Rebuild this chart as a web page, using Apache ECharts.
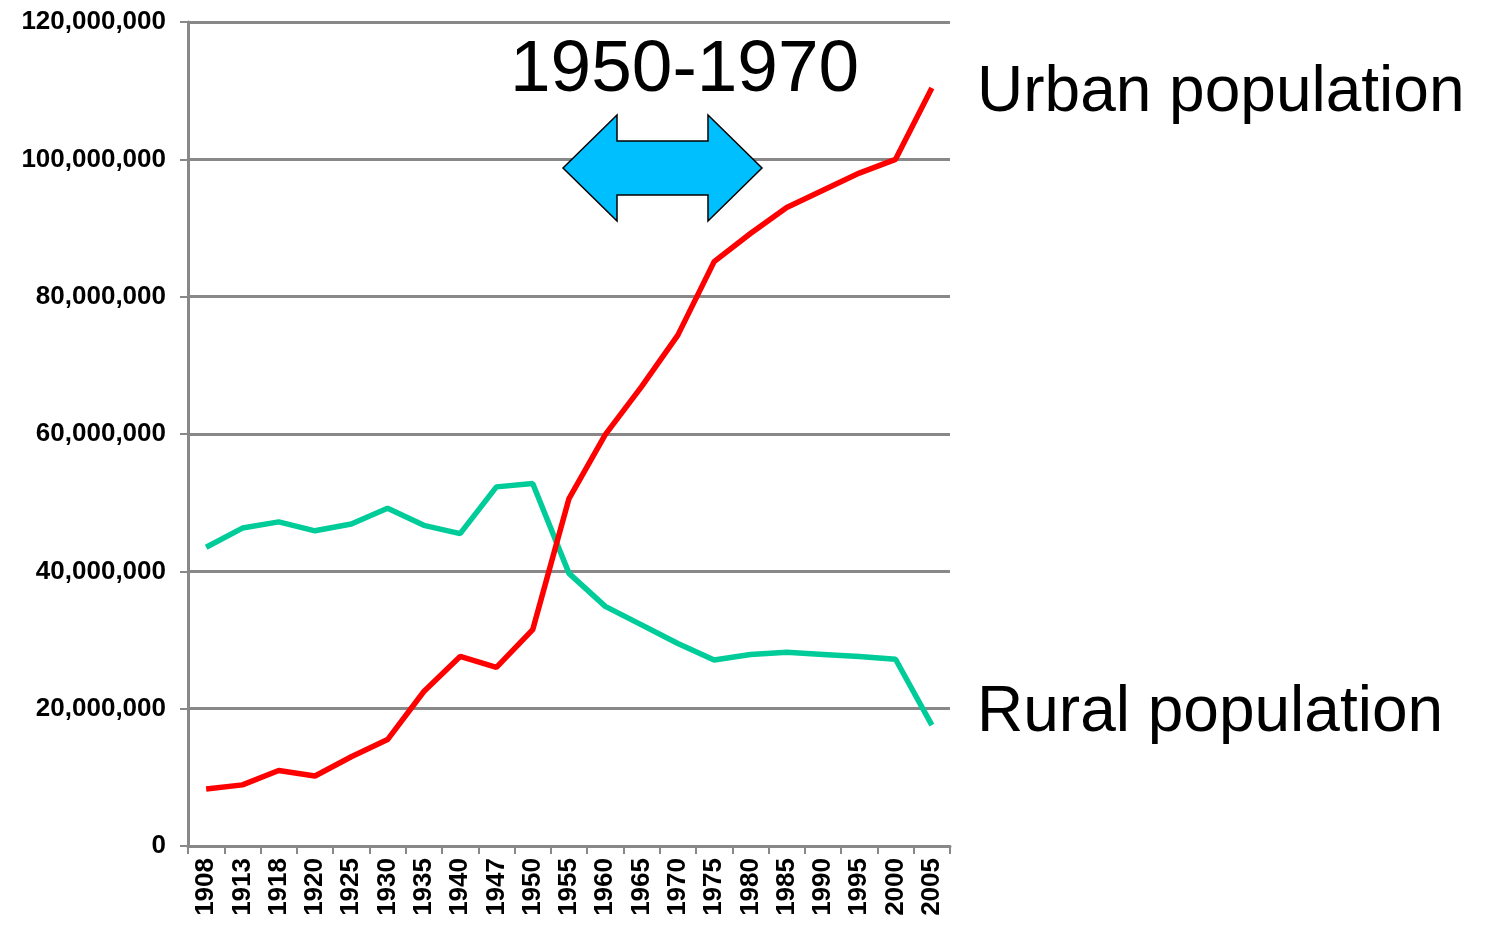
<!DOCTYPE html>
<html>
<head>
<meta charset="utf-8">
<script src="https://cdn.jsdelivr.net/npm/echarts@6/dist/echarts.min.js"></script>
<style>html,body{margin:0;padding:0;background:#fff;}#c{width:1486px;height:925px;}</style>
</head>
<body>
<div id="c"></div>
<script>
const years = ['1908','1913','1918','1920','1925','1930','1935','1940','1947','1950','1955','1960','1965','1970','1975','1980','1985','1990','1995','2000','2005'];
const urbanPopulation = [8300000, 8900000, 11000000, 10200000, 13000000, 15500000, 22500000, 27600000, 26000000, 31500000, 50600000, 59900000, 66900000, 74400000, 85100000, 89200000, 93000000, 95500000, 98000000, 100000000, 110400000];
const ruralPopulation = [43500000, 46300000, 47200000, 45900000, 46900000, 49200000, 46700000, 45500000, 52300000, 52800000, 39700000, 34900000, 32200000, 29500000, 27100000, 27900000, 28200000, 27900000, 27600000, 27200000, 17600000];
const periodLabel = '1950-1970';
const urbanLabel = 'Urban population';
const ruralLabel = 'Rural population';

const FONT = "'Liberation Sans', Arial, sans-serif";
const chart = echarts.init(document.getElementById('c'), null, {renderer: 'canvas'});
const fmt = v => String(v).replace(/\B(?=(\d{3})+(?!\d))/g, ',');

chart.setOption({
  animation: false,
  backgroundColor: '#fff',
  grid: {left: 188, right: 536, top: 22, bottom: 79, containLabel: false},
  xAxis: {
    type: 'category',
    data: years,
    boundaryGap: true,
    axisLine: {lineStyle: {color: '#888', width: 3}},
    axisTick: {show: true, length: 8, lineStyle: {color: '#888', width: 2}, alignWithLabel: false},
    axisLabel: {interval: 0, rotate: 90, margin: 12, color: '#000', fontFamily: FONT, fontWeight: 'bold', fontSize: 26}
  },
  yAxis: {
    type: 'value',
    min: 0, max: 120000000, interval: 20000000,
    axisLine: {show: true, lineStyle: {color: '#888', width: 3}},
    axisTick: {show: true, length: 8, lineStyle: {color: '#888', width: 2}},
    splitLine: {show: true, lineStyle: {color: '#888', width: 3}},
    axisLabel: {margin: 22, color: '#000', fontFamily: FONT, fontWeight: 'bold', fontSize: 26, formatter: fmt}
  },
  series: [
    {name: urbanLabel, type: 'line', data: urbanPopulation, symbol: 'none', lineStyle: {color: '#ff0000', width: 5.5}, z: 3},
    {name: ruralLabel, type: 'line', data: ruralPopulation, symbol: 'none', lineStyle: {color: '#00cc99', width: 5.5}, z: 2}
  ],
  graphic: [
    {type: 'polygon', z: 10,
     shape: {points: [[563,168],[617,115],[617,141],[708,141],[708,115],[762,168],[708,221],[708,195],[617,195],[617,221]]},
     style: {fill: '#00bfff', stroke: '#000', lineWidth: 1.5}},
    {type: 'text', z: 10, left: 510, top: 34, style: {text: periodLabel, font: '73px ' + FONT, fill: '#000'}},
    {type: 'text', z: 10, left: 977, top: 61, style: {text: urbanLabel, font: '64px ' + FONT, fill: '#000'}},
    {type: 'text', z: 10, left: 977, top: 681, style: {text: ruralLabel, font: '64px ' + FONT, fill: '#000'}}
  ]
});
</script>
</body>
</html>
